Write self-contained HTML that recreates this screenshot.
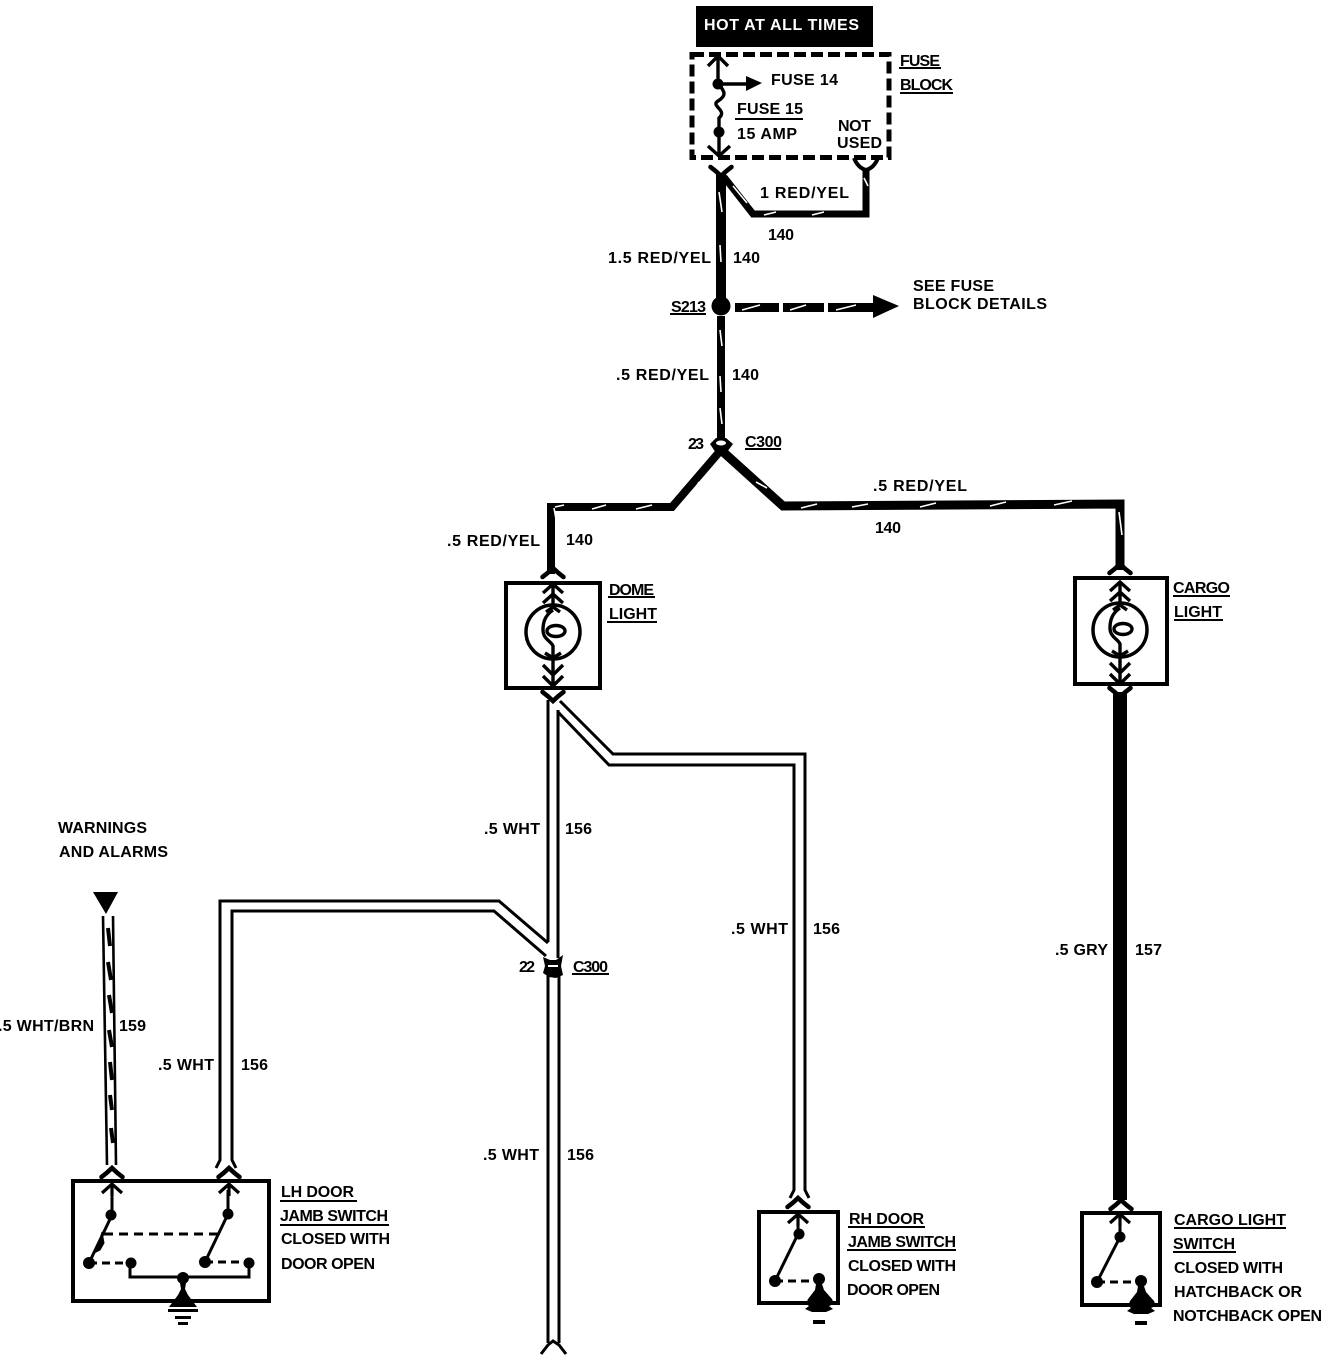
<!DOCTYPE html>
<html><head><meta charset="utf-8"><style>
html,body{margin:0;padding:0;background:#fff;overflow:hidden}
svg{display:block}
text{font-family:"Liberation Sans",sans-serif;font-weight:700;font-size:16px;fill:#000}
</style></head><body>
<svg width="1322" height="1360" viewBox="0 0 1322 1360" xmlns="http://www.w3.org/2000/svg">
<rect width="1322" height="1360" fill="#fff"/>
<defs>
<path id="up" d="M-10.5 5 Q-5 1 0 -4 Q5 1 10.5 5" fill="none" stroke="#000" stroke-width="4.5" stroke-linecap="round"/>
<path id="dn" d="M-10.5 -5 Q-5 -1 0 4 Q5 -1 10.5 -5" fill="none" stroke="#000" stroke-width="4.5" stroke-linecap="round"/>
<path id="ar" d="M-10 9 L0 0 L10 9 M0 0 V12" fill="none" stroke="#000" stroke-width="3.2"/>
<g id="bulb">
<circle cx="0" cy="0" r="27" fill="none" stroke="#000" stroke-width="3.5"/>
<g fill="none" stroke="#000" stroke-width="3.4">
<path d="M-10 -39 L0 -48 L10 -39 M-10 -29 L0 -38 L10 -29 M0 -48 V-24"/>
<path d="M-7 -20 L0 -25 L7 -20 M-8 21 L0 26 L8 21"/>
<path d="M0 -22 C-9 -16 -10 -8 -10 -2 C-10 7 -2 9 0 14 V27"/>
<ellipse cx="3" cy="-1" rx="9" ry="5.5"/>
<path d="M-10 33 L0 43 L10 33 M-10 44 L0 54 L10 44 M0 27 V54"/>
</g>
</g>
</defs>

<!-- Hot box -->
<rect x="696" y="6" width="177" height="41" fill="#000"/>
<text x="704" y="30" textLength="155" style="fill:#fff">HOT AT ALL TIMES</text>

<!-- Fuse block -->
<rect x="692" y="54.500" width="197" height="103" fill="none" stroke="#000" stroke-width="5" stroke-dasharray="12 5"/>
<g fill="none" stroke="#000" stroke-width="3.4">
<path d="M718 56 V84 M718 84 H755"/>
<path d="M708 66 L718 56 L728 66"/>
<path d="M718 84 C726 92 726 96 718 101 C710 106 728 110 719 118 V156"/>
<path d="M708 146 L719 156 L730 146"/>
</g>
<circle cx="718" cy="84" r="5.500"/><circle cx="719" cy="132" r="5.500"/>
<path d="M746 76 L762 83 L746 91Z"/>

<!-- Red/Yel wires -->
<g fill="none" stroke="#000" stroke-linejoin="miter">
<path d="M721 173 V298" stroke-width="10"/>
<path d="M724 177 L753 214 H866 V168" stroke-width="7"/>
<path d="M721 316 V452" stroke-width="8"/>
<path d="M721 450 L672 507 H551 V574" stroke-width="8"/>
<path d="M721 450 L783 506 L1120 504 V570" stroke-width="9"/>
<path d="M1120 692 V1200" stroke-width="14"/>
</g>
<use href="#dn" x="721" y="172"/>
<path d="M854 158 Q858 168 866 170 Q874 168 878 158" fill="none" stroke="#000" stroke-width="4"/>
<circle cx="721" cy="306" r="9.500"/>
<!-- S213 branch -->
<g fill="#000">
<rect x="735" y="303" width="44" height="9"/><rect x="783" y="303" width="41" height="9"/><rect x="828" y="303" width="48" height="9"/>
<path d="M873 295 L899 306 L873 318Z"/>
</g>
<!-- C300 23 -->
<path d="M710 444 L716 438 L726 438 L733 444 L724 456 L718 456Z"/>
<ellipse cx="721" cy="443" rx="5" ry="2.500" fill="#fff"/>

<!-- white slashes -->
<g fill="none" stroke="#fff" stroke-width="1.6">
<path d="M719 192 L722 212 M720 245 L721 262 M720 330 L722 346 M720 376 L721 392 M720 408 L722 424"/>
<path d="M733 186 L747 203 M764 215 L776 212 M812 215 L824 212 M864 178 L868 186"/>
<path d="M742 310 L760 305 M790 310 L806 305 M836 310 L856 305"/>
<path d="M699 482 L693 493 M554 508 L558 530 M555 507 L564 505 M592 509 L606 505 M636 509 L652 505"/>
<path d="M756 482 L767 488 M801 508 L817 504 M852 507 L868 504 M920 507 L936 503 M990 506 L1006 502 M1054 505 L1072 501 M1119 512 L1122 535"/>
</g>

<!-- Dome light -->
<rect x="506" y="583" width="94" height="105" fill="#fff" stroke="#000" stroke-width="4"/>
<use href="#up" x="553" y="572"/>
<use href="#bulb" x="553" y="632"/>
<use href="#dn" x="553" y="697"/>

<!-- Cargo light -->
<rect x="1075" y="578" width="92" height="106" fill="#fff" stroke="#000" stroke-width="4"/>
<use href="#up" x="1120" y="568"/>
<use href="#bulb" x="1120" y="630"/>
<use href="#dn" x="1120" y="693"/>

<!-- White wires -->
<g fill="none" stroke="#000" stroke-width="3">
<path d="M548 700 V942"/>
<path d="M558 710 V958"/>
<path d="M560 701 L613 754 H805 V1190 L809 1198"/>
<path d="M558 712 L609 765 H794 V1190 L790 1198"/>
<path d="M548 943 L499 901 H220 V1160 L216 1168"/>
<path d="M546 956 L494 911 H232 V1160 L236 1168"/>
<path d="M548 975 V1343"/>
<path d="M559 975 V1343"/>
</g>
<path d="M541 1354 L548 1345 L553 1341 L559 1345 L566 1354" fill="none" stroke="#000" stroke-width="3"/>
<!-- C300 22 -->
<path d="M543 957 L550 960 L556 960 L563 955 L561 966 L563 975 L556 978 L549 977 L543 973 L545 966Z"/>
<rect x="548" y="965" width="10" height="2" fill="#fff"/>

<!-- Wire 159 -->
<path d="M93 892 H118 L106 914Z"/>
<g fill="none" stroke="#000" stroke-width="2.600">
<path d="M103 916 L107 1165 M113 916 L116 1165"/>
</g>
<path d="M108 928 L110 946 M108 962 L111 980 M109 995 L112 1013 M109 1030 L112 1047 M110 1062 L112 1080 M110 1095 L112 1110 M111 1128 L113 1143" fill="none" stroke="#000" stroke-width="4"/>

<!-- LH switch -->
<rect x="73" y="1181" width="196" height="120" fill="#fff" stroke="#000" stroke-width="4"/>
<use href="#up" x="112" y="1172"/>
<use href="#up" x="229" y="1172"/>
<use href="#ar" x="112" y="1184"/>
<use href="#ar" x="229" y="1184"/>
<g fill="none" stroke="#000" stroke-width="3">
<path d="M112 1190 V1215 L89 1263"/>
<path d="M228 1190 V1214 L205 1262"/>
<path d="M104 1234 H218" stroke-dasharray="9 6"/>
<path d="M89 1263 H131" stroke-dasharray="8 5"/>
<path d="M205 1262 H249" stroke-dasharray="8 5"/>
<path d="M130 1263 V1277 H249 V1263"/>
</g>
<path d="M100 1250 L104 1243 L102 1232 L96 1252Z" stroke="#000"/>
<circle cx="111" cy="1215" r="5.500"/><circle cx="89" cy="1263" r="6"/><circle cx="131" cy="1263" r="5.500"/>
<circle cx="228" cy="1214" r="5.500"/><circle cx="205" cy="1262" r="6"/><circle cx="249" cy="1263" r="5.500"/>
<circle cx="183" cy="1278" r="6"/>
<path d="M180 1283 H186 L185 1289 L188 1295 L194 1303 L197 1307 H169 L172 1303 L178 1295 L181 1289Z"/>
<rect x="168" y="1309" width="30" height="3"/><rect x="175" y="1316" width="16" height="3"/><rect x="178" y="1322" width="10" height="3"/>

<!-- RH switch -->
<rect x="759" y="1212" width="79" height="91" fill="#fff" stroke="#000" stroke-width="4"/>
<use href="#up" x="798" y="1202"/>
<use href="#ar" x="798" y="1214"/>
<g fill="none" stroke="#000" stroke-width="3">
<path d="M798 1218 V1234 L775 1281"/>
<path d="M775 1281 H815" stroke-dasharray="8 5"/>
</g>
<circle cx="799" cy="1234" r="5.500"/><circle cx="775" cy="1281" r="6"/><circle cx="819" cy="1279" r="6"/>
<path d="M816 1284 H822 L824 1290 L832 1299 L834 1304 L829 1306 L833 1309 L826 1312 H812 L805 1309 L809 1306 L806 1304 L808 1299 L815 1290Z"/>
<rect x="813" y="1320" width="12" height="4"/>

<!-- Cargo switch -->
<rect x="1082" y="1213" width="78" height="92" fill="#fff" stroke="#000" stroke-width="4"/>
<use href="#up" x="1121" y="1204"/>
<use href="#ar" x="1120" y="1214"/>
<g fill="none" stroke="#000" stroke-width="3">
<path d="M1120 1220 V1237 L1097 1282"/>
<path d="M1097 1282 H1137" stroke-dasharray="8 5"/>
</g>
<circle cx="1120" cy="1237" r="5.500"/><circle cx="1097" cy="1282" r="6"/><circle cx="1141" cy="1281" r="6"/>
<path d="M1138 1286 H1144 L1146 1292 L1154 1301 L1156 1306 L1151 1308 L1155 1311 L1148 1314 H1134 L1127 1311 L1131 1308 L1128 1306 L1130 1301 L1137 1292Z"/>
<rect x="1135" y="1321" width="12" height="4"/>

<!-- Underlines -->
<g stroke="#000" stroke-width="2" fill="none">
<path d="M735 119H803 M899 68H941 M900 93H953 M670 314H706 M745 449H781 M608 597H655 M607 622H657 M1173 596H1230 M1174 620H1223 M572 974H609"/>
<path d="M280 1201H357 M280 1225H389 M848 1227H925 M847 1250H956 M1174 1228H1286 M1173 1252H1236"/>
</g>

<!-- Labels -->
<g transform="translate(0,1)">
<text x="771" y="84" textLength="67">FUSE 14</text>
<text x="737" y="113" textLength="66">FUSE 15</text>
<text x="737" y="138" textLength="60">15 AMP</text>
<text x="838" y="130" textLength="33">NOT</text>
<text x="837" y="147" textLength="45">USED</text>
<text x="900" y="65" textLength="40">FUSE</text>
<text x="900" y="89" textLength="53">BLOCK</text>
<text x="760" y="197" textLength="89">1 RED/YEL</text>
<text x="768" y="239" textLength="26">140</text>
<text x="608" y="262" textLength="103">1.5 RED/YEL</text>
<text x="733" y="262" textLength="27">140</text>
<text x="671" y="311" textLength="35">S213</text>
<text x="913" y="290" textLength="81">SEE FUSE</text>
<text x="913" y="308" textLength="134">BLOCK DETAILS</text>
<text x="616" y="379" textLength="93">.5 RED/YEL</text>
<text x="732" y="379" textLength="27">140</text>
<text x="688" y="448" textLength="16">23</text>
<text x="745" y="446" textLength="37">C300</text>
<text x="873" y="490" textLength="94">.5 RED/YEL</text>
<text x="875" y="532" textLength="26">140</text>
<text x="447" y="545" textLength="93">.5 RED/YEL</text>
<text x="566" y="544" textLength="27">140</text>
<text x="609" y="594" textLength="45">DOME</text>
<text x="609" y="618" textLength="48">LIGHT</text>
<text x="1173" y="592" textLength="57">CARGO</text>
<text x="1174" y="616" textLength="48">LIGHT</text>
<text x="484" y="833" textLength="56">.5 WHT</text>
<text x="565" y="833" textLength="27">156</text>
<text x="58" y="832" textLength="89">WARNINGS</text>
<text x="59" y="856" textLength="109">AND ALARMS</text>
<text x="519" y="971" textLength="16">22</text>
<text x="573" y="971" textLength="35">C300</text>
<text x="731" y="933" textLength="57">.5 WHT</text>
<text x="813" y="933" textLength="27">156</text>
<text x="1055" y="954" textLength="53">.5 GRY</text>
<text x="1135" y="954" textLength="27">157</text>
<text x="-2" y="1030" textLength="96">.5 WHT/BRN</text>
<text x="119" y="1030" textLength="27">159</text>
<text x="158" y="1069" textLength="56">.5 WHT</text>
<text x="241" y="1069" textLength="27">156</text>
<text x="483" y="1159" textLength="56">.5 WHT</text>
<text x="567" y="1159" textLength="27">156</text>
<text x="281" y="1196" textLength="73">LH DOOR</text>
<text x="280" y="1220" textLength="108">JAMB SWITCH</text>
<text x="281" y="1243" textLength="109">CLOSED WITH</text>
<text x="281" y="1268" textLength="94">DOOR OPEN</text>
<text x="849" y="1223" textLength="75">RH DOOR</text>
<text x="848" y="1246" textLength="108">JAMB SWITCH</text>
<text x="848" y="1270" textLength="108">CLOSED WITH</text>
<text x="847" y="1294" textLength="93">DOOR OPEN</text>
<text x="1174" y="1224" textLength="112">CARGO LIGHT</text>
<text x="1173" y="1248" textLength="62">SWITCH</text>
<text x="1174" y="1272" textLength="109">CLOSED WITH</text>
<text x="1174" y="1296" textLength="128">HATCHBACK OR</text>
<text x="1173" y="1320" textLength="149">NOTCHBACK OPEN</text>
</g>
</svg>
</body></html>
